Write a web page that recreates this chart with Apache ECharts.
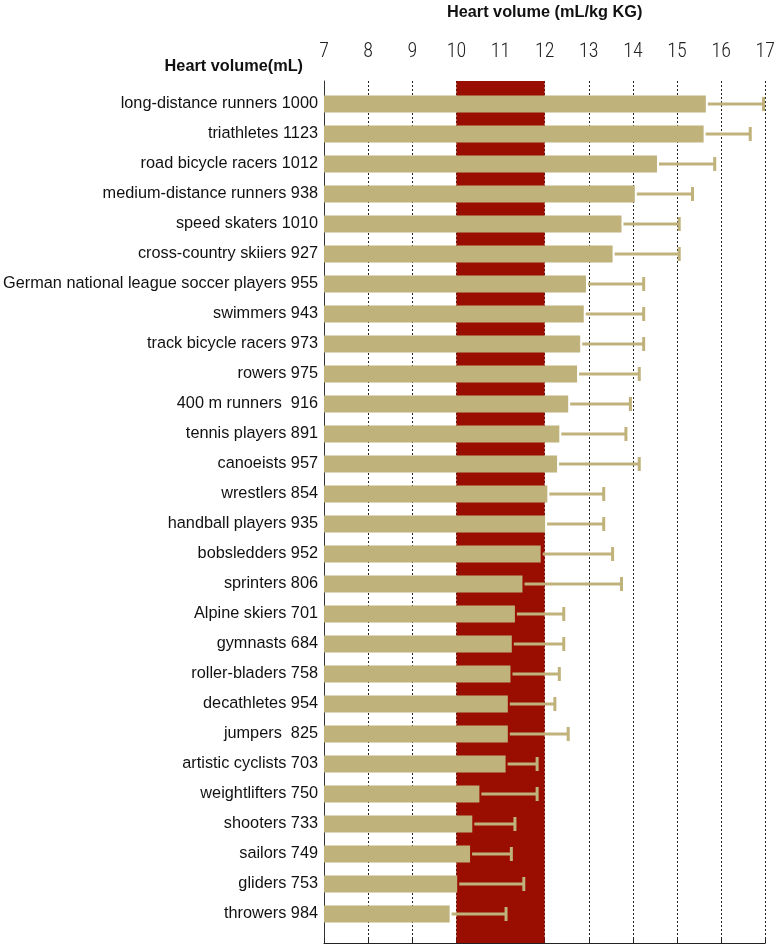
<!DOCTYPE html>
<html><head><meta charset="utf-8">
<script src="https://cdn.jsdelivr.net/npm/echarts@6/dist/echarts.min.js"></script>
<style>html,body{margin:0;padding:0;background:#fff}#c{width:778px;height:945px}</style>
</head><body><div id="c"></div>
<script>
const categories = ["long-distance runners 1000","triathletes 1123","road bicycle racers 1012","medium-distance runners 938","speed skaters 1010","cross-country skiiers 927","German national league soccer players 955","swimmers 943","track bicycle racers 973","rowers 975","400 m runners  916","tennis players 891","canoeists 957","wrestlers 854","handball players 935","bobsledders 952","sprinters 806","Alpine skiers 701","gymnasts 684","roller-bladers 758","decathletes 954","jumpers  825","artistic cyclists 703","weightlifters 750","shooters 733","sailors 749","gliders 753","throwers 984"];
const values = [15.6,15.55,14.5,14.0,13.7,13.5,12.9,12.85,12.77,12.7,12.5,12.3,12.25,12.03,11.98,11.88,11.47,11.3,11.23,11.2,11.14,11.14,11.09,10.5,10.34,10.29,10.0,9.83];
const errEnd = [16.9,16.6,15.8,15.3,15.0,15.0,14.2,14.2,14.2,14.1,13.9,13.8,14.1,13.3,13.3,13.5,13.7,12.4,12.4,12.3,12.2,12.5,11.8,11.8,11.3,11.22,11.5,11.1];
const xTicks = [7,17,1];
const band = [10,12];

const FONT = "'Liberation Sans',Arial,sans-serif";
const NARROW = "'Liberation Sans Narrow','Roboto Condensed','Liberation Sans',sans-serif";
const barColor = '#bfb27a';
const chart = echarts.init(document.getElementById('c'));
chart.setOption({
  animation:false,
  textStyle:{fontFamily:FONT},
  grid:[
    {left:324,right:10,top:72,bottom:2},
    {left:324,right:10,top:89,height:840}
  ],
  xAxis:[
    {gridIndex:0,type:'value',position:'top',min:xTicks[0],max:xTicks[1],interval:xTicks[2],
     name:'Heart volume (mL/kg KG)',nameLocation:'middle',nameGap:60,
     nameTextStyle:{fontFamily:FONT,fontWeight:'bold',fontSize:16.3,color:'#111'},
     axisLine:{show:true,lineStyle:{color:'#222',width:1}},
     axisTick:{show:true,length:5,lineStyle:{color:'#222'}},
     axisLabel:{fontSize:20,color:'#222',margin:19,fontFamily:NARROW,fontWeight:300},
     splitLine:{show:true,lineStyle:{color:'#222',type:[2,2],width:1}}},
    {gridIndex:1,type:'value',min:xTicks[0],max:xTicks[1],show:false}
  ],
  yAxis:[
    {gridIndex:0,type:'value',min:0,max:1,
     axisLine:{show:true,lineStyle:{color:'#333',width:1}},axisTick:{show:false},axisLabel:{show:false},splitLine:{show:false}},
    {gridIndex:1,type:'category',inverse:true,data:categories,
     axisLine:{show:false},axisTick:{show:false},
     axisLabel:{fontSize:16.3,color:'#111',margin:6,fontFamily:FONT}}
  ],
  graphic:[{type:'text',x:303,y:67,style:{text:'Heart volume(mL)',fill:'#111',font:'bold 16.3px '+FONT,textAlign:'right',textVerticalAlign:'middle'}}],
  series:[
    {type:'line',xAxisIndex:0,yAxisIndex:0,data:[],z:1,silent:true,
     markArea:{silent:true,itemStyle:{color:'#990e00',opacity:1},data:[[{xAxis:band[0]},{xAxis:band[1]}]]}},
    {type:'bar',xAxisIndex:1,yAxisIndex:1,data:values,barWidth:17,z:3,
     itemStyle:{color:barColor}},
    {type:'custom',xAxisIndex:1,yAxisIndex:1,z:4,
     data:values.map((v,i)=>[v,i,errEnd[i]]),
     renderItem:function(params,api){
       const s=api.coord([api.value(0),api.value(1)]);
       const e=api.coord([api.value(2),api.value(1)]);
       const st={stroke:barColor,lineWidth:3};
       return {type:'group',children:[
         {type:'line',shape:{x1:s[0]+2,y1:s[1],x2:e[0],y2:e[1]},style:st},
         {type:'line',shape:{x1:e[0],y1:e[1]-7,x2:e[0],y2:e[1]+7},style:st}
       ]};
     }}
  ]
});
</script></body></html>
